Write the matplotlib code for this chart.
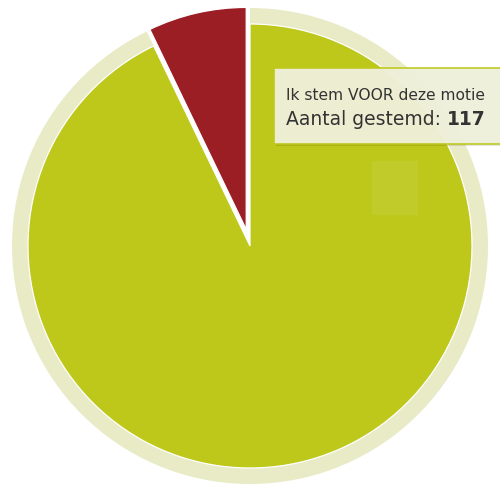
import matplotlib.pyplot as plt
from matplotlib.patches import Wedge, Rectangle

# Stemmen per keuze
labels = ['Ik stem VOOR deze motie', 'Ik stem TEGEN deze motie']
votes = [117, 9]
colors = ['#bdc81a', '#9b1e25']
halo_color = '#e8ebc6'

fig = plt.figure(figsize=(5, 4.85), dpi=100)
ax = fig.add_axes([0, 0, 1, 1])

cx, cy, r = 250, 238, 222

wedges, _ = ax.pie(votes, colors=colors, startangle=90, counterclock=False,
                   radius=r, center=(cx, cy), explode=[0, 17],
                   wedgeprops=dict(edgecolor='white', linewidth=0.9))
for w in wedges:
    w.set_zorder(3)

# hover halo around the highlighted slice
g = wedges[0]
ax.add_patch(Wedge((cx, cy), r + 16, g.theta1, g.theta2,
                   facecolor=halo_color, edgecolor='none', zorder=1))

# faint square left by the tooltip tracker
ax.add_patch(Rectangle((372, 485 - 216), 46, 54, facecolor='white',
                       alpha=0.07, edgecolor='none', zorder=4))

# tooltip
ax.add_patch(Rectangle((276, 485 - 147), 230, 76, facecolor='black',
                       alpha=0.10, edgecolor='none', zorder=5))
ax.add_patch(Rectangle((274, 485 - 145), 230, 76, facecolor='#f0f1dc',
                       alpha=0.95, edgecolor='#bdc81a', linewidth=1.2, zorder=6))
ax.text(286, 485 - 100, labels[0], fontsize=11.2, color='#333333',
        va='baseline', ha='left', zorder=7)
t = ax.text(286, 485 - 125, 'Aantal gestemd: ', fontsize=13.5, color='#333333',
            va='baseline', ha='left', zorder=7)
ax.annotate(str(votes[0]), xycoords=t, xy=(1, 0), va='bottom', ha='left',
            fontsize=13.5, fontweight='bold', color='#333333', zorder=7)

ax.set_xlim(0, 500)
ax.set_ylim(0, 485)
ax.set_aspect('equal')
ax.axis('off')

fig.savefig('out.png', dpi=100)
